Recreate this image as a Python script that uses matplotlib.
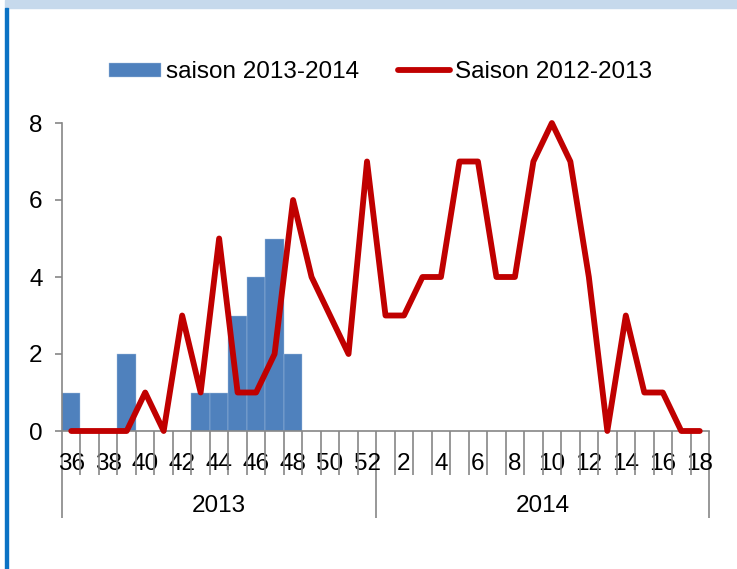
import numpy as np
import matplotlib
matplotlib.use('Agg')
import matplotlib.pyplot as plt
from matplotlib.patches import Rectangle

plt.rcParams['font.family'] = ['Liberation Sans', 'DejaVu Sans']

# semaines (36 a 52 en 2013, 1 a 18 en 2014)
semaines = list(range(36, 53)) + list(range(1, 19))
annees = ['2013', '2014']
nb_sem_2013 = 17

# saison 2013-2014 (barres, jusqu'a la semaine 48)
saison_2013_2014 = [1, 0, 0, 2, 0, 0, 0, 1, 1, 3, 4, 5, 2]
# saison 2012-2013 (ligne)
saison_2012_2013 = [0, 0, 0, 0, 1, 0, 3, 1, 5, 1, 1, 2, 6, 4, 3, 2, 7,
                    3, 3, 4, 4, 7, 7, 4, 4, 7, 8, 7, 4, 0, 3, 1, 1, 0, 0]

gris = '#868686'
taille = 17.5

fig = plt.figure(figsize=(7.37, 5.69), dpi=100)
# bandeau du haut et filet bleu a gauche
fig.patches.append(Rectangle((5 / 737, 1 - 8 / 569), 1, 8 / 569,
                             transform=fig.transFigure, color='#c6d9ec', zorder=0))
fig.patches.append(Rectangle((5 / 737, 0), 3 / 737, 1 - 8 / 569,
                             transform=fig.transFigure, color='#0a72c4', zorder=0))

ax = fig.add_axes([62 / 737, 1 - 431 / 569, 647 / 737, 308 / 569])

x = np.arange(len(semaines))
xb = x[:len(saison_2013_2014)]
barres = ax.bar(xb, saison_2013_2014, width=1.0, color='#4f81bd', edgecolor='#a9c1e0',
                linewidth=0.3, label='saison 2013-2014', zorder=2)
ligne, = ax.plot(x, saison_2012_2013, color='#c00000', linewidth=4.2,
                 label='Saison 2012-2013', solid_joinstyle='round',
                 solid_capstyle='round', clip_on=False, zorder=3)

ax.set_xlim(-0.5, len(semaines) - 0.5)
ax.set_ylim(0, 8)
ax.set_yticks([0, 2, 4, 6, 8])

for s in ['top', 'right']:
    ax.spines[s].set_visible(False)
for s in ['left', 'bottom']:
    ax.spines[s].set_color(gris)
    ax.spines[s].set_linewidth(1.2)

ax.tick_params(axis='y', length=5, width=1.2, color=gris, pad=9, labelsize=taille)

# etiquettes des semaines (une sur deux)
ax.set_xticks(x)
ax.set_xticklabels([str(s) if s % 2 == 0 else '' for s in semaines])
ax.tick_params(axis='x', which='major', length=0, pad=16, labelsize=taille)
bornes = np.arange(-0.5, len(semaines), 1.0)
ax.set_xticks([b for b in bornes if b not in (-0.5, nb_sem_2013 - 0.5, len(semaines) - 0.5)],
              minor=True)
ax.tick_params(axis='x', which='minor', length=31.7, width=1.2, color=gris)

# second niveau : annees
sec = ax.secondary_xaxis(0)
sec.spines['bottom'].set_visible(False)
sec.set_xticks([-0.5, nb_sem_2013 - 0.5, len(semaines) - 0.5])
sec.set_xticklabels(['', '', ''])
sec.tick_params(axis='x', which='major', length=62.6, width=1.2, color=gris)
sec.set_xticks([(nb_sem_2013 - 1) / 2, (nb_sem_2013 + len(semaines) - 1) / 2], minor=True)
sec.set_xticklabels(annees, minor=True)
sec.tick_params(axis='x', which='minor', length=0, pad=46, labelsize=taille)

fig.legend([barres, ligne], ['saison 2013-2014', 'Saison 2012-2013'],
           loc='center', bbox_to_anchor=(0.516, 0.873), ncol=2, frameon=False,
           fontsize=taille, handlelength=2.15, handleheight=0.5, handletextpad=0.2,
           columnspacing=1.6)

fig.savefig('out.png', dpi=100)
